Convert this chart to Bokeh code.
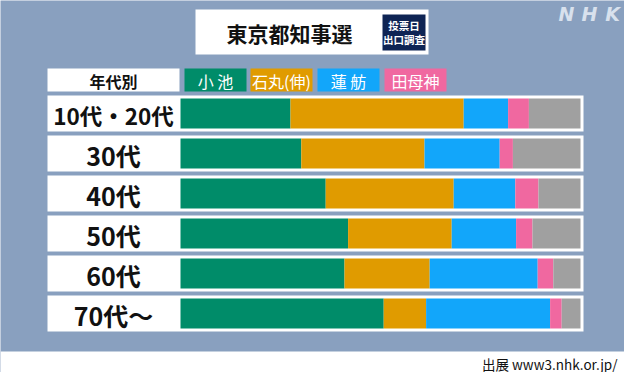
import numpy as np
from bokeh.plotting import figure
from bokeh.models import ColumnDataSource, Range1d
from bokeh.core.properties import value, field
from bokeh.embed import file_html
from bokeh.resources import INLINE

# ---------------- data ----------------
title = "東京都知事選"
badge_lines = ["投票日", "出口調査"]
legend_header = "年代別"
age_groups = ["10代・20代", "30代", "40代", "50代", "60代", "70代～"]
candidates = ["小 池", "石丸(伸)", "蓮 舫", "田母神"]
koike = [27.5, 30.2, 36.3, 41.9, 41.0, 50.8]
ishimaru = [43.3, 30.8, 32.0, 25.9, 21.3, 10.6]
renho = [11.1, 18.8, 15.4, 16.1, 27.0, 31.0]
tamogami = [5.2, 3.3, 5.8, 4.1, 3.9, 2.9]
others = [12.9, 16.9, 10.5, 12.0, 6.8, 4.7]
source_note = "出展 www3.nhk.or.jp/"
logo = "NHK"

# ---------------- style ----------------
COLORS = ["#008c69", "#e09b00", "#12a6fa", "#f068a0", "#a0a0a0"]
JP = value("Noto Sans CJK JP")
W, H = 624, 372
X0, Y0 = 8, 8  # page margin: the figure covers reference pixels 8..632, 8..380

p = figure(width=W, height=H, output_backend="svg", toolbar_location=None,
           x_range=Range1d(X0, X0 + W), y_range=Range1d(Y0 + H, Y0),
           min_border=0, min_border_left=0, min_border_right=0,
           min_border_top=0, min_border_bottom=0)
p.axis.visible = False
p.grid.visible = False
p.outline_line_color = None
p.background_fill_color = "#89a0bf"
p.border_fill_color = "#89a0bf"

# background gradient (style only)
gx = np.linspace(0, 1, W)[None, :]
gy = np.linspace(0, 1, H)[:, None]
left = np.array([0x6c, 0x8b, 0xb3])
right = np.array([0x8d, 0xa4, 0xc2])
t = np.clip(gx * W / 70.0, 0, 1)
t = t * np.ones_like(gy)
col = left[None, None, :] * (1 - t[..., None]) + right[None, None, :] * t[..., None]
col = col * (1 - 0.08 * gy[..., None] ** 2)
img = np.empty((H, W), dtype=np.uint32)
view = img.view(dtype=np.uint8).reshape((H, W, 4))
view[..., 0] = col[..., 0].astype(np.uint8)
view[..., 1] = col[..., 1].astype(np.uint8)
view[..., 2] = col[..., 2].astype(np.uint8)
view[..., 3] = 255
p.image_rgba(image=[img[::-1]], x=X0, y=Y0 + H, dw=W, dh=H)

# white footer strip
p.quad(left=X0, right=X0 + W, top=359, bottom=Y0 + H, fill_color="white", line_color=None)
p.text(x=[625], y=[371], text=[source_note], text_font=JP, text_font_size="13.5px",
       text_align="right", text_baseline="middle", text_color="#111111")

# logo (letters spaced out like the broadcaster mark)
p.text(x=[574, 597, 620], y=[21, 21, 21], text=list(logo), text_font=value("DejaVu Sans"),
       text_font_style="bold italic", text_font_size="19px",
       text_align="center", text_baseline="middle", text_color="#d8e1ed")

# title box
p.quad(left=203, right=436, top=17, bottom=62, fill_color="white", line_color=None)
p.text(x=[297], y=[40], text=[title], text_font=JP, text_font_style="bold",
       text_font_size="21px", text_align="center", text_baseline="middle",
       text_color="#111111")
p.quad(left=390, right=433, top=22, bottom=58, fill_color="#0e2454", line_color=None)
p.text(x=[411.5, 411.5], y=[33, 47], text=badge_lines, text_font=JP,
       text_font_style="bold", text_font_size="10.5px", text_align="center",
       text_baseline="middle", text_color="white")

# legend row
p.quad(left=55, right=187, top=76, bottom=99, fill_color="white", line_color=None)
p.text(x=[121], y=[88], text=[legend_header], text_font=JP, text_font_style="bold",
       text_font_size="16px", text_align="center", text_baseline="middle",
       text_color="#111111")
leg_left = [192, 258, 325, 392]
leg_w = 62
p.quad(left=leg_left, right=[l + leg_w for l in leg_left], top=76, bottom=99,
       fill_color=COLORS[:4], line_color=None)
p.text(x=[l + leg_w / 2 for l in leg_left], y=[88] * 4, text=candidates, text_font=JP,
       text_font_size="16px", text_align="center", text_baseline="middle",
       text_color="white")

# rows
ys = [121 + 40 * i for i in range(len(age_groups))]
p.quad(left=55, right=591, top=[y - 18 for y in ys], bottom=[y + 18 for y in ys],
       fill_color="white", line_color=None)
label_src = ColumnDataSource(dict(
    x=[121] * len(ys), y=[y + 1 for y in ys], text=age_groups,
    size=["22.5px" if len(g) > 4 else "25px" for g in age_groups]))
p.text(x="x", y="y", text="text", source=label_src, text_font=JP,
       text_font_style="bold", text_font_size=field("size"), text_align="center",
       text_baseline="middle", text_color="#111111")

# stacked bars through a percentage scale: 0% -> x=188, 100% -> x=588
p.extra_x_ranges = {"pct": Range1d((X0 - 188) / 4.0, (X0 + W - 188) / 4.0)}
src = ColumnDataSource(dict(y=ys, koike=koike, ishimaru=ishimaru, renho=renho,
                            tamogami=tamogami, others=others))
p.hbar_stack(["koike", "ishimaru", "renho", "tamogami", "others"], y="y", height=30,
             color=COLORS, line_color=None, source=src, x_range_name="pct")

open("out.html", "w").write(file_html(p, INLINE))
